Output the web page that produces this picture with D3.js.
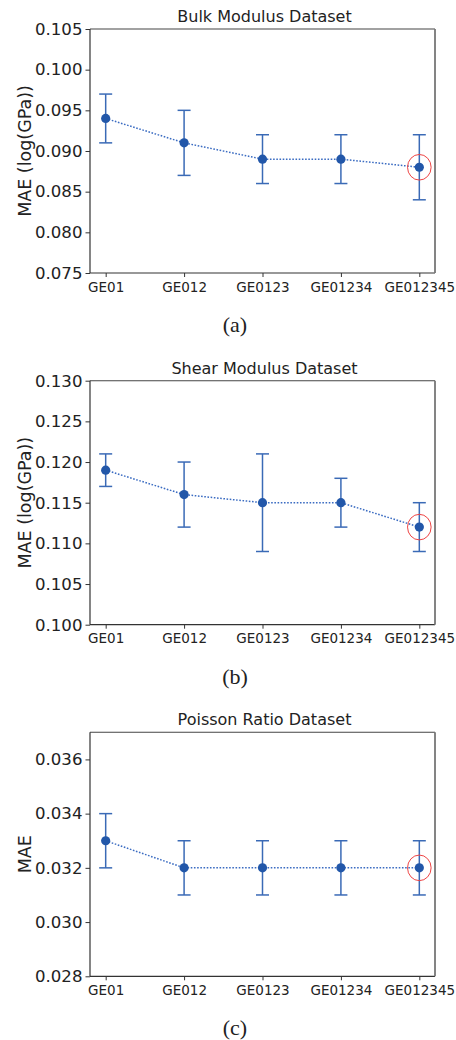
<!DOCTYPE html>
<html>
<head>
<meta charset="utf-8">
<script src="https://cdn.jsdelivr.net/npm/d3@7"></script>
<style>
  html, body { margin: 0; padding: 0; background: #fff; }
  svg { display: block; }
</style>
</head>
<body>
<svg id="chart" width="456" height="1040"></svg>
<script>
// ---- data ----
const categories = ["GE01", "GE012", "GE0123", "GE01234", "GE012345"];

const bulkMean  = [0.094, 0.091, 0.089, 0.089, 0.088];
const bulkLow   = [0.091, 0.087, 0.086, 0.086, 0.084];
const bulkHigh  = [0.097, 0.095, 0.092, 0.092, 0.092];
const bulkTicks = [0.075, 0.080, 0.085, 0.090, 0.095, 0.100, 0.105];

const shearMean  = [0.119, 0.116, 0.115, 0.115, 0.112];
const shearLow   = [0.117, 0.112, 0.109, 0.112, 0.109];
const shearHigh  = [0.121, 0.120, 0.121, 0.118, 0.115];
const shearTicks = [0.100, 0.105, 0.110, 0.115, 0.120, 0.125, 0.130];

const poissonMean  = [0.033, 0.032, 0.032, 0.032, 0.032];
const poissonLow   = [0.032, 0.031, 0.031, 0.031, 0.031];
const poissonHigh  = [0.034, 0.033, 0.033, 0.033, 0.033];
const poissonTicks = [0.028, 0.030, 0.032, 0.034, 0.036];

const titles   = ["Bulk Modulus Dataset", "Shear Modulus Dataset", "Poisson Ratio Dataset"];
const ylabels  = ["MAE (log(GPa))", "MAE (log(GPa))", "MAE"];
const captions = ["(a)", "(b)", "(c)"];
const bestIndex = 4;

// ---- layout ----
const panels = [
  { top: 29,    mean: bulkMean,    low: bulkLow,    high: bulkHigh,    ticks: bulkTicks,    domain: [0.075, 0.105], fmt: ".3f" },
  { top: 380.7, mean: shearMean,   low: shearLow,   high: shearHigh,   ticks: shearTicks,   domain: [0.100, 0.130], fmt: ".3f" },
  { top: 732.3, mean: poissonMean, low: poissonLow, high: poissonHigh, ticks: poissonTicks, domain: [0.028, 0.037], fmt: ".3f" }
];
const left = 90, right = 435, ph = 244;

const svg = d3.select("#chart");
const sans = "'DejaVu Sans', sans-serif";
const dotColor = "#2257a9";
const barColor = "#3a6ab6";

const x = d3.scaleLinear().domain([-0.2, categories.length - 1 + 0.2]).range([left, right]);

panels.forEach((p, pi) => {
  const top = p.top, bottom = p.top + ph;
  const y = d3.scaleLinear().domain(p.domain).range([bottom, top]);
  const g = svg.append("g");

  // y axis
  const yAxis = d3.axisLeft(y).tickValues(p.ticks).tickFormat(d3.format(p.fmt)).tickSize(4.5).tickPadding(3);
  const ya = g.append("g").attr("transform", `translate(${left},0)`).call(yAxis);
  ya.select(".domain").remove();
  ya.selectAll("line").attr("stroke", "#333").attr("stroke-width", 1);
  ya.selectAll("text").attr("font-family", sans).attr("font-size", 16.6).attr("fill", "#222");

  // x axis
  const xAxis = d3.axisBottom(x).tickValues(d3.range(categories.length)).tickFormat(i => categories[i]).tickSize(4).tickPadding(5);
  const xa = g.append("g").attr("transform", `translate(0,${bottom})`).call(xAxis);
  xa.select(".domain").remove();
  xa.selectAll("line").attr("stroke", "#333").attr("stroke-width", 1);
  xa.selectAll("text").attr("font-family", sans).attr("font-size", 13.5).attr("fill", "#222");

  // frame
  g.append("line").attr("x1", left).attr("x2", right).attr("y1", top).attr("y2", top).attr("stroke", "#444").attr("stroke-width", 1.1);
  g.append("line").attr("x1", left).attr("x2", right).attr("y1", bottom).attr("y2", bottom).attr("stroke", "#333").attr("stroke-width", 1.2);
  g.append("line").attr("x1", left).attr("x2", left).attr("y1", top).attr("y2", bottom).attr("stroke", "#333").attr("stroke-width", 1.2);
  g.append("line").attr("x1", right).attr("x2", right).attr("y1", top).attr("y2", bottom).attr("stroke", "#777").attr("stroke-width", 1.8);

  // title
  g.append("text").attr("x", (left + right) / 2 + 2).attr("y", top - 7)
    .attr("text-anchor", "middle").attr("font-family", sans).attr("font-size", 16).attr("fill", "#222")
    .text(titles[pi]);

  // y label
  g.append("text").attr("transform", `translate(31,${(top + bottom) / 2}) rotate(-90)`)
    .attr("text-anchor", "middle").attr("font-family", sans).attr("font-size", 17.5).attr("fill", "#222")
    .text(ylabels[pi]);

  // caption
  g.append("text").attr("x", 235).attr("y", bottom + 59)
    .attr("text-anchor", "middle").attr("font-family", "'Liberation Serif', 'DejaVu Serif', serif").attr("font-size", 22).attr("fill", "#222")
    .text(captions[pi]);

  // dotted connecting line
  const line = d3.line().x((d, i) => x(i)).y(d => y(d));
  g.append("path").datum(p.mean).attr("d", line).attr("fill", "none")
    .attr("stroke", "#3b6cc2").attr("stroke-width", 1.5).attr("stroke-dasharray", "1.6,1.6");

  // error bars
  const idx = d3.range(categories.length);
  const eb = g.append("g").selectAll("g").data(idx).join("g");
  eb.append("line").attr("x1", i => x(i)).attr("x2", i => x(i))
    .attr("y1", i => y(p.low[i])).attr("y2", i => y(p.high[i]))
    .attr("stroke", barColor).attr("stroke-width", 1.5);
  eb.append("line").attr("x1", i => x(i) - 6.5).attr("x2", i => x(i) + 6.5)
    .attr("y1", i => y(p.low[i])).attr("y2", i => y(p.low[i]))
    .attr("stroke", barColor).attr("stroke-width", 1.5);
  eb.append("line").attr("x1", i => x(i) - 6.5).attr("x2", i => x(i) + 6.5)
    .attr("y1", i => y(p.high[i])).attr("y2", i => y(p.high[i]))
    .attr("stroke", barColor).attr("stroke-width", 1.5);

  // points
  g.append("g").selectAll("circle").data(idx).join("circle")
    .attr("cx", i => x(i)).attr("cy", i => y(p.mean[i])).attr("r", 4.6)
    .attr("fill", dotColor);

  // highlight best
  g.append("ellipse").attr("cx", x(bestIndex)).attr("cy", y(p.mean[bestIndex]))
    .attr("rx", 11.8).attr("ry", 12.8).attr("fill", "none")
    .attr("stroke", "#ee4444").attr("stroke-width", 1);
});
</script>
</body>
</html>
